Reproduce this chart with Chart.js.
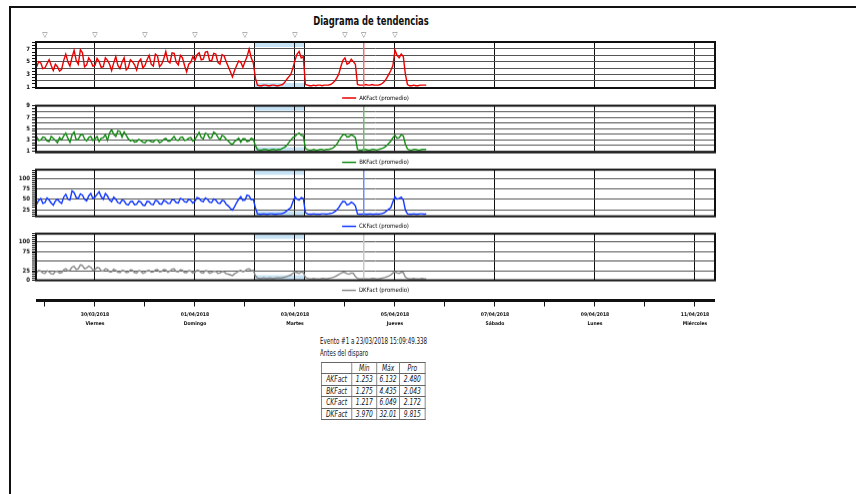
<!DOCTYPE html>
<html>
<head>
<meta charset="utf-8">
<script src="https://cdn.jsdelivr.net/npm/chart.js@4.4.1/dist/chart.umd.min.js"></script>
<style>
  body { margin: 0; width: 856px; height: 494px; overflow: hidden; background: #fff; position: relative;
         font-family: "Liberation Sans Narrow", "DejaVu Sans Condensed", sans-serif; color: #111; }
  #page { position: absolute; left: 9px; top: 6px; width: 900px; height: 600px;
          border-left: 2px solid #111; border-top: 2px solid #111; }
  canvas { position: absolute; left: 0; top: 0; }
  #title { position: absolute; left: 271px; width: 200px; top: 13px; text-align: center;
           font-weight: bold; font-size: 13px; transform: scaleX(0.72); }
  #evento { position: absolute; left: 320px; top: 336px; font-size: 8px; line-height: 12px;
            transform: scaleX(0.77); transform-origin: left top; white-space: nowrap; }
  #stats { position: absolute; left: 321px; top: 362px; border-collapse: collapse; border: 1.5px solid #111;
           font-style: italic; font-size: 8.5px; transform: scaleX(0.78); transform-origin: left top; }
  #stats td, #stats th { border: 1px solid #666; padding: 0; height: 10.5px; text-align: center; font-weight: normal; }
  #stats th { height: 8px; }
</style>
</head>
<body>
<div id="page"></div>
<div id="title">Diagrama de tendencias</div>
<canvas id="p0" width="720" height="90"></canvas>
<canvas id="p1" width="720" height="80"></canvas>
<canvas id="p2" width="720" height="80"></canvas>
<canvas id="p3" width="720" height="80"></canvas>
<canvas id="axis" width="720" height="80"></canvas>
<div id="evento">Evento #1 a 23/03/2018 15:09:49.338<br>Antes del disparo</div>
<table id="stats"></table>
<script>
// hourly samples, first one on 28/03/2018 20:00 (hours counted from 29/03/2018 00:00)
const startHour = -4;
const stepHours = 1;

const akfact = [
  4.2, 5.0, 4.8, 3.9, 4.0, 4.7, 5.3, 4.4, 3.6, 4.6, 4.2, 3.5, 3.8, 5.2, 6.2, 5.0, 4.3, 5.7, 6.8, 5.2,
  4.6, 6.9, 6.4, 4.2, 4.5, 5.6, 5.1, 4.3, 4.4, 5.5, 5.0, 4.1, 4.2, 5.6, 5.2, 4.6, 3.6, 4.8, 5.8, 4.4,
  3.9, 4.9, 5.6, 3.7, 4.1, 5.3, 5.0, 4.5, 3.7, 5.0, 5.4, 4.0, 4.4, 5.3, 6.0, 4.6, 4.3, 6.2, 5.9, 4.2,
  4.6, 5.4, 6.6, 5.1, 4.8, 6.4, 6.3, 4.9, 4.5, 6.0, 5.6, 4.4, 3.4, 4.6, 4.9, 5.8, 5.2, 6.1, 6.4, 5.3,
  5.4, 6.5, 6.6, 5.2, 5.1, 6.3, 6.2, 4.9, 4.6, 6.1, 5.9, 5.0, 4.2, 3.4, 2.6, 3.6, 4.4, 5.1, 4.9, 4.1,
  5.0, 5.8, 7.0, 5.6, 4.8, 2.4, 1.3, 1.2, 1.2, 1.3, 1.3, 1.2, 1.2, 1.3, 1.3, 1.2, 1.2, 1.3, 1.4, 1.7,
  2.2, 2.6, 3.0, 4.0, 5.2, 6.2, 6.6, 5.6, 5.8, 1.4, 1.3, 1.2, 1.2, 1.3, 1.2, 1.3, 1.3, 1.2, 1.3, 1.3,
  1.3, 1.4, 1.6, 1.9, 2.4, 3.0, 4.2, 5.2, 5.6, 4.6, 4.8, 5.4, 5.0, 4.6, 1.4, 1.3, 1.3, 1.3, 1.4, 1.3,
  1.3, 1.4, 1.3, 1.3, 1.3, 1.4, 1.6, 1.9, 2.4, 3.0, 3.6, 4.4, 6.8, 6.0, 5.6, 6.2, 5.8, 3.0, 1.4, 1.2,
  1.2, 1.3, 1.2, 1.2, 1.3, 1.3, 1.3, 1.3];
const bkfact = [
  3.6, 2.9, 3.0, 3.5, 3.4, 2.8, 2.7, 3.6, 3.3, 2.9, 2.5, 3.4, 3.0, 3.7, 4.2, 3.3, 2.6, 3.9, 4.4, 3.0,
  3.1, 3.8, 4.0, 3.2, 2.8, 3.4, 3.6, 2.9, 3.2, 3.6, 2.7, 3.3, 3.4, 3.9, 2.9, 4.2, 4.8, 4.0, 3.6, 4.6,
  4.5, 3.5, 4.4, 3.8, 3.2, 2.8, 3.0, 2.6, 2.7, 3.1, 2.9, 2.6, 2.5, 2.9, 2.9, 2.7, 2.6, 3.0, 3.0, 2.5,
  2.7, 3.1, 3.3, 2.8, 2.8, 3.2, 3.6, 3.0, 2.9, 3.4, 3.5, 2.9, 3.0, 3.3, 3.4, 2.8, 3.1, 3.7, 4.3, 3.4,
  3.2, 4.2, 4.0, 3.3, 3.4, 4.4, 4.1, 3.5, 3.0, 3.8, 3.6, 3.1, 2.8, 2.4, 2.2, 2.7, 3.0, 3.3, 2.6, 3.2,
  3.2, 2.7, 2.8, 3.3, 3.1, 2.0, 1.3, 1.2, 1.2, 1.3, 1.3, 1.2, 1.2, 1.3, 1.3, 1.2, 1.3, 1.3, 1.5, 1.7,
  2.0, 2.5, 3.0, 3.4, 3.6, 4.0, 4.2, 3.8, 3.7, 1.5, 1.3, 1.2, 1.2, 1.3, 1.2, 1.2, 1.3, 1.3, 1.2, 1.3,
  1.3, 1.4, 1.5, 1.8, 2.2, 2.8, 3.4, 3.9, 4.0, 3.5, 3.6, 3.9, 3.7, 3.4, 1.3, 1.2, 1.2, 1.3, 1.3, 1.2,
  1.2, 1.3, 1.3, 1.2, 1.3, 1.4, 1.5, 1.7, 2.0, 2.4, 2.8, 3.4, 3.8, 3.3, 3.4, 3.9, 3.7, 2.2, 1.4, 1.2,
  1.2, 1.3, 1.3, 1.2, 1.2, 1.3, 1.3, 1.3];
const ckfact = [
  38, 47, 52, 40, 42, 53, 48, 41, 36, 46, 50, 44, 40, 55, 62, 50, 48, 70, 66, 54,
  52, 63, 60, 50, 46, 58, 64, 52, 55, 62, 68, 56, 50, 64, 58, 48, 44, 55, 50, 42,
  40, 48, 46, 38, 36, 44, 45, 37, 38, 46, 43, 36, 35, 45, 44, 38, 37, 47, 46, 39,
  38, 47, 45, 40, 40, 49, 48, 42, 41, 52, 50, 44, 43, 50, 47, 41, 45, 54, 52, 46,
  44, 53, 50, 43, 42, 51, 48, 41, 40, 47, 46, 38, 34, 28, 24, 32, 42, 50, 56, 47,
  48, 60, 58, 49, 50, 30, 15, 14, 14, 15, 14, 14, 15, 15, 14, 14, 15, 15, 16, 18,
  22, 26, 30, 44, 56, 50, 48, 54, 52, 18, 15, 14, 14, 15, 14, 14, 14, 15, 15, 14,
  15, 16, 17, 20, 24, 30, 38, 45, 44, 36, 38, 43, 40, 34, 15, 14, 14, 15, 14, 14,
  15, 14, 14, 15, 14, 15, 16, 18, 22, 26, 30, 44, 56, 50, 52, 55, 48, 24, 15, 14,
  14, 15, 14, 14, 15, 15, 14, 15];
const dkfact = [
  20, 26, 24, 19, 18, 25, 22, 17, 16, 23, 24, 19, 20, 27, 30, 24, 26, 34, 36, 28,
  30, 40, 38, 30, 32, 37, 34, 27, 28, 33, 32, 25, 24, 30, 28, 22, 22, 29, 26, 21,
  20, 26, 25, 20, 21, 27, 26, 20, 19, 25, 24, 18, 20, 25, 26, 21, 22, 27, 28, 22,
  23, 28, 27, 21, 24, 29, 30, 23, 22, 27, 26, 20, 20, 25, 24, 19, 21, 26, 25, 20,
  19, 25, 24, 18, 20, 24, 23, 18, 19, 23, 22, 17, 16, 14, 12, 17, 20, 24, 26, 22,
  24, 29, 30, 25, 26, 12, 6, 5, 5, 6, 5, 5, 6, 5, 5, 6, 6, 6, 7, 8,
  10, 12, 14, 18, 22, 20, 18, 22, 20, 8, 5, 4, 4, 5, 4, 4, 4, 5, 5, 4,
  5, 6, 7, 9, 12, 15, 18, 21, 20, 17, 16, 19, 18, 10, 5, 4, 4, 5, 4, 4,
  4, 5, 5, 4, 4, 5, 6, 7, 9, 11, 14, 19, 22, 19, 18, 21, 20, 8, 5, 4,
  4, 5, 4, 4, 4, 5, 4, 4];

const seriesNames = ["AKFact (promedio)", "BKFact (promedio)", "CKFact (promedio)", "DKFact (promedio)"];
const seriesColors = ["#ea0000", "#138a13", "#1238ff", "#8a8a8a"];
const eventColors = ["#f07070", "#74b874", "#7088ff", "#c8c8c8"];

const yRanges = [[0.85, 8.1], [0.8, 9.05], [9, 121], [0, 121]];
const yTickStep = [0.5, 0.5, 5, 5];
const yLabelValues = [[1, 3, 5, 7], [1, 3, 5, 7, 9], [25, 50, 75, 100], [0, 25, 75, 100]];
const yGridValues = [[1, 2, 3, 4, 5, 6, 7, 8], [1, 2, 3, 4, 5, 6, 7, 8, 9], [25, 50, 75, 100], [25, 50, 75, 100]];

const xMin = -4.3, xMax = 321.6;
const dayLines = [24, 72, 120, 168, 216, 264, 312];
const windowStart = 100.8, windowEnd = 124.8;
const eventHour = 153;
const markerHours = [0, 24, 48, 72, 96, 120, 144, 153, 168];
const axisTickHours = [0, 24, 48, 72, 96, 120, 144, 168, 192, 216, 240, 264, 288, 312];
const labeledHours = [24, 72, 120, 168, 216, 264, 312];
const tickDates = ["30/03/2018", "01/04/2018", "03/04/2018", "05/04/2018", "07/04/2018", "09/04/2018", "11/04/2018"];
const tickDays = ["Viernes", "Domingo", "Martes", "Jueves", "Sábado", "Lunes", "Miércoles"];

const statNames = ["AKFact", "BKFact", "CKFact", "DKFact"];
const statMin = ["1.253", "1.275", "1.217", "3.970"];
const statMax = ["6.132", "4.435", "6.049", "32.01"];
const statAvg = ["2.480", "2.043", "2.172", "9.815"];

const NARROW = '"Liberation Sans Narrow", "DejaVu Sans Condensed", sans-serif';
Chart.defaults.font.family = NARROW;
Chart.defaults.color = "#111";

const plotLeft = 36, plotWidth = 679, plotHeight = 46;
const panelTops = [42, 106, 170, 234];

const panelDecor = {
  id: "panelDecor",
  beforeDraw(chart, args, opts) {
    const { ctx, chartArea: a, scales: { x } } = chart;
    const x0 = x.getPixelForValue(windowStart), x1 = x.getPixelForValue(windowEnd);
    ctx.save();
    ctx.fillStyle = "#c6e2f5";
    ctx.fillRect(x0, a.top, x1 - x0, 5);
    ctx.fillRect(x0, a.bottom - 5, x1 - x0, 5);
    ctx.restore();
  },
  afterDatasetsDraw(chart, args, opts) {
    const { ctx, chartArea: a, scales: { x } } = chart;
    const xe = x.getPixelForValue(eventHour);
    ctx.save();
    ctx.strokeStyle = eventColors[opts.idx];
    ctx.lineWidth = 1.5;
    ctx.beginPath();
    ctx.moveTo(xe, a.top);
    ctx.lineTo(xe, a.bottom);
    ctx.stroke();
    ctx.restore();
  },
  afterDraw(chart, args, opts) {
    const { ctx, chartArea: a, scales: { x } } = chart;
    ctx.save();
    ctx.strokeStyle = "#111";
    ctx.lineWidth = 2;
    ctx.strokeRect(a.left, a.top, a.right - a.left, a.bottom - a.top);
    if (opts.markers) {
      ctx.fillStyle = "#666";
      ctx.font = '7px "DejaVu Sans"';
      ctx.textAlign = "center";
      ctx.textBaseline = "middle";
      markerHours.forEach(h => ctx.fillText("▽", x.getPixelForValue(h), a.top - 7));
    }
    ctx.restore();
  }
};

function fitPlot(chart, canvas, top, height) {
  let a = chart.chartArea;
  chart.resize(chart.width + plotWidth - (a.right - a.left), chart.height + height - (a.bottom - a.top));
  a = chart.chartArea;
  canvas.style.left = (plotLeft - a.left) + "px";
  canvas.style.top = (top - a.top) + "px";
}

function panelChart(idx, values) {
  const canvas = document.getElementById("p" + idx);
  const [yMin, yMax] = yRanges[idx];
  const points = values.map((v, i) => ({ x: startHour + i * stepHours, y: v }));
  const chart = new Chart(canvas, {
    type: "line",
    data: {
      datasets: [{
        label: seriesNames[idx],
        data: points,
        borderColor: seriesColors[idx],
        backgroundColor: seriesColors[idx],
        borderWidth: 1.4,
        pointRadius: 0,
        tension: 0,
      }],
    },
    options: {
      responsive: false,
      maintainAspectRatio: false,
      animation: false,
      events: [],
      layout: { padding: { top: idx === 0 ? 14 : 3, left: 0, right: 3, bottom: 0 } },
      scales: {
        x: {
          type: "linear",
          min: xMin,
          max: xMax,
          afterBuildTicks: s => { s.ticks = dayLines.concat([windowStart, windowEnd]).map(v => ({ value: v })); },
          ticks: { display: false },
          grid: { color: "#111", lineWidth: 1, drawTicks: false },
          border: { display: false },
        },
        y: {
          min: yMin,
          max: yMax,
          afterBuildTicks: s => {
            const ticks = [];
            const first = Math.ceil(yMin / yTickStep[idx]) * yTickStep[idx];
            for (let v = first; v <= yMax + 1e-9; v += yTickStep[idx]) ticks.push({ value: Math.round(v * 100) / 100 });
            s.ticks = ticks;
          },
          afterFit: s => { s.width = 34; },
          ticks: {
            autoSkip: false,
            padding: 2,
            font: { size: 6, weight: "bold" },
            callback: v => (yLabelValues[idx].includes(v) ? String(v) : ""),
          },
          grid: {
            color: c => (c.tick && yGridValues[idx].includes(c.tick.value) ? "#555" : "rgba(0,0,0,0)"),
            tickColor: "#111",
            tickLength: 4,
          },
          border: { display: false },
        },
      },
      plugins: {
        legend: {
          position: "bottom",
          fullSize: false,
          labels: {
            boxWidth: 14,
            boxHeight: 1.5,
            padding: 7,
            font: { size: 6 },
            generateLabels: ch => ch.data.datasets.map((ds, i) => ({
              text: ds.label, fillStyle: ds.borderColor, strokeStyle: ds.borderColor,
              lineWidth: 0, hidden: false, datasetIndex: i,
            })),
          },
        },
        tooltip: { enabled: false },
        panelDecor: { idx: idx, markers: idx === 0 },
      },
    },
    plugins: [panelDecor],
  });
  fitPlot(chart, canvas, panelTops[idx], plotHeight);
}

[akfact, bkfact, ckfact, dkfact].forEach((vals, i) => panelChart(i, vals));

// shared date axis under the panels
const axisCanvas = document.getElementById("axis");
const axisChart = new Chart(axisCanvas, {
  type: "line",
  data: { datasets: [] },
  options: {
    responsive: false,
    maintainAspectRatio: false,
    animation: false,
    events: [],
    layout: { padding: 0 },
    plugins: { legend: { display: false }, tooltip: { enabled: false } },
    scales: {
      x: {
        type: "linear",
        min: xMin,
        max: xMax,
        afterBuildTicks: s => { s.ticks = axisTickHours.map(v => ({ value: v })); },
        ticks: {
          autoSkip: false,
          maxRotation: 0,
          padding: 3,
          color: "#111",
          font: { size: 5, weight: "bold", lineHeight: 1.9 },
          callback: v => {
            const k = labeledHours.indexOf(v);
            return k < 0 ? "" : [tickDates[k], tickDays[k]];
          },
        },
        grid: { drawOnChartArea: false, tickLength: 6, tickColor: "#111", tickWidth: 1 },
        border: { display: true, width: 3, color: "#111" },
      },
      y: { display: false },
    },
  },
});
fitPlot(axisChart, axisCanvas, 270, 30);

// statistics table
const table = document.getElementById("stats");
let html = '<tr><th style="width:38px"></th><th style="width:31px">Mín</th><th style="width:28px">Máx</th><th style="width:32px">Pro</th></tr>';
statNames.forEach((n, i) => {
  html += "<tr><td>" + n + "</td><td>" + statMin[i] + "</td><td>" + statMax[i] + "</td><td>" + statAvg[i] + "</td></tr>";
});
table.innerHTML = html;
</script>
</body>
</html>
